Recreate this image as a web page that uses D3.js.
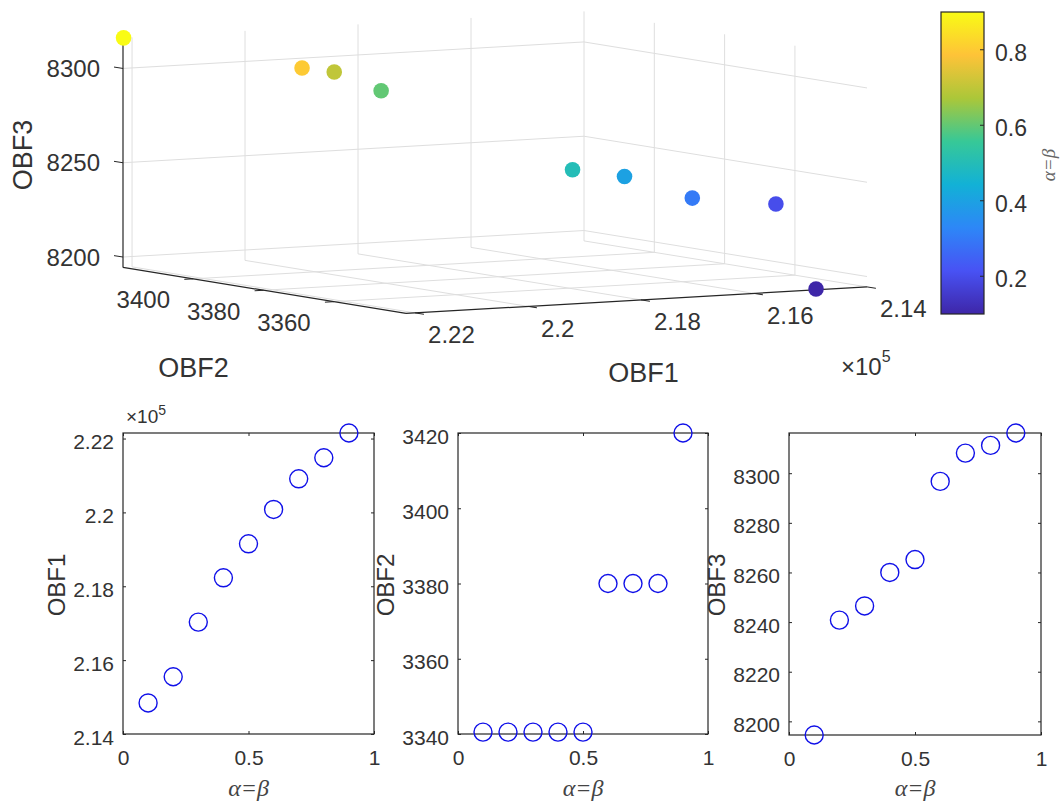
<!DOCTYPE html>
<html>
<head>
<meta charset="utf-8">
<script src="https://d3js.org/d3.v7.min.js"></script>
<style>
  body { margin: 0; background: #fff; }
  svg text { font-family: "Liberation Sans", Arial, sans-serif; fill: #333; }
  svg .greek { font-family: "Liberation Serif", "Times New Roman", serif; font-style: italic; fill: #444; }
</style>
</head>
<body>
<svg id="chart" width="1061" height="801"></svg>
<script>
// alpha = beta settings
const alphas = [0.1, 0.2, 0.3, 0.4, 0.5, 0.6, 0.7, 0.8, 0.9];
// objective values
const obf1 = [214840, 215550, 217030, 218230, 219150, 220080, 220910, 221480, 222150];
const obf2 = [3340.5, 3340.5, 3340.5, 3340.5, 3340.5, 3380, 3380, 3380, 3420];
const obf3 = [8194.5, 8240.8, 8246.5, 8260, 8265.2, 8296.7, 8308.1, 8311.2, 8316.2];

// tick values
const xTicks3d = [2.14, 2.16, 2.18, 2.2, 2.22];
const yTicks3d = [3360, 3380, 3400];
const zTicks3d = [8200, 8250, 8300];
const cbTicks = [0.2, 0.4, 0.6, 0.8];
const alphaTicks = [0, 0.5, 1];
const obf1Ticks = [2.14, 2.16, 2.18, 2.2, 2.22];
const obf2Ticks = [3340, 3360, 3380, 3400, 3420];
const obf3Ticks = [8200, 8220, 8240, 8260, 8280, 8300];

// parula colormap
const parula = ["#3e26a8", "#4852f4", "#2d87f7", "#12b1d6", "#37c897", "#abc739", "#fec338", "#f9fb15"];

const svg = d3.select("#chart");
const ink = "#262626";

const color = d3.scaleLinear()
  .domain(parula.map((c, i) => 0.1 + 0.8 * i / (parula.length - 1)))
  .range(parula);

// ---------- 3D scatter (orthographic projection) ----------
const u = d3.scaleLinear().domain([2.2216, 2.14]).range([0, 1]);
const v = d3.scaleLinear().domain([3420, 3339.5]).range([0, 1]);
const w = d3.scaleLinear().domain(d3.extent(obf3)).range([0, 1]);
const origin = [123, 267.4], ex = [461, -26.5], ey = [283, 46], ez = -229.5;

function proj(a, b, c) {
  return [origin[0] + a * ex[0] + b * ey[0], origin[1] + a * ex[1] + b * ey[1] + c * ez];
}
const line = d3.line();
const g3 = svg.append("g");

// grid on the back planes
const grid = [];
xTicks3d.forEach(t => {
  grid.push([[u(t), 0, 0], [u(t), 0, 1]]);
  grid.push([[u(t), 0, 0], [u(t), 1, 0]]);
});
yTicks3d.forEach(t => {
  grid.push([[1, v(t), 0], [1, v(t), 1]]);
  grid.push([[0, v(t), 0], [1, v(t), 0]]);
});
zTicks3d.forEach(t => {
  grid.push([[0, 0, w(t)], [1, 0, w(t)]]);
  grid.push([[1, 0, w(t)], [1, 1, w(t)]]);
});
g3.selectAll(".grid").data(grid).join("path")
  .attr("d", d => line(d.map(p => proj(...p))))
  .attr("stroke", "#dedede").attr("stroke-width", 1).attr("fill", "none");

// axis lines
const axes3 = [[[0, 0, 0], [0, 0, 1]], [[0, 0, 0], [0, 1, 0]], [[0, 1, 0], [1, 1, 0]]];
g3.selectAll(".ax").data(axes3).join("path")
  .attr("d", d => line(d.map(p => proj(...p))))
  .attr("stroke", ink).attr("stroke-width", 1.2).attr("fill", "none");

// z ticks
zTicks3d.forEach(t => {
  const p = proj(0, 0, w(t));
  g3.append("path").attr("d", line([p, [p[0] - 9, p[1] - 1.4]])).attr("stroke", ink);
  g3.append("text").attr("x", 100).attr("y", p[1] + 8.5)
    .attr("text-anchor", "end").style("font-size", "24px").text(t);
});
// y ticks (OBF2)
yTicks3d.forEach(t => {
  const p = proj(0, v(t), 0);
  g3.append("path").attr("d", line([p, [p[0] - 9, p[1] + 0.5]])).attr("stroke", ink);
  g3.append("text").attr("x", p[0] - 50).attr("y", p[1] + 29.5)
    .attr("text-anchor", "middle").style("font-size", "24px").text(t);
});
// x ticks (OBF1)
xTicks3d.forEach(t => {
  const p = proj(u(t), 1, 0);
  g3.append("path").attr("d", line([p, [p[0] + 8.9, p[1] + 1.4]])).attr("stroke", ink);
  g3.append("text").attr("x", p[0] + 13).attr("y", p[1] + 30.5)
    .attr("text-anchor", "start").style("font-size", "24px").text(t);
});

// axis titles
g3.append("text").attr("transform", "translate(32,155) rotate(-90)")
  .attr("text-anchor", "middle").style("font-size", "27px").text("OBF3");
g3.append("text").attr("x", 193.5).attr("y", 377)
  .attr("text-anchor", "middle").style("font-size", "27px").text("OBF2");
g3.append("text").attr("x", 643.5).attr("y", 382)
  .attr("text-anchor", "middle").style("font-size", "27px").text("OBF1");
const e3 = g3.append("text").attr("x", 841).attr("y", 375).style("font-size", "24px");
e3.append("tspan").text("×10");
e3.append("tspan").attr("dy", -13).style("font-size", "16px").text("5");

// points
g3.selectAll(".dot").data(alphas).join("circle")
  .attr("cx", (d, i) => proj(u(obf1[i] / 1e5), v(obf2[i]), w(obf3[i]))[0])
  .attr("cy", (d, i) => proj(u(obf1[i] / 1e5), v(obf2[i]), w(obf3[i]))[1])
  .attr("r", 7.8)
  .attr("fill", d => color(d));

// ---------- colorbar ----------
const cb = d3.scaleLinear().domain([0.1, 0.9]).range([314, 12]);
const defs = svg.append("defs");
const grad = defs.append("linearGradient").attr("id", "parula")
  .attr("x1", 0).attr("y1", 1).attr("x2", 0).attr("y2", 0);
grad.selectAll("stop").data(parula).join("stop")
  .attr("offset", (d, i) => i / (parula.length - 1))
  .attr("stop-color", d => d);
svg.append("rect").attr("x", 941).attr("y", cb(0.9)).attr("width", 43)
  .attr("height", cb(0.1) - cb(0.9)).attr("fill", "url(#parula)")
  .attr("stroke", ink).attr("stroke-width", 1.2);
cbTicks.forEach(t => {
  svg.append("path").attr("d", line([[984, cb(t)], [980, cb(t)]])).attr("stroke", ink);
  svg.append("text").attr("x", 995).attr("y", cb(t) + 11)
    .style("font-size", "23px").text(t);
});
svg.append("text").attr("class", "greek")
  .attr("transform", "translate(1055,165) rotate(-90)")
  .attr("text-anchor", "middle").style("font-size", "19px").style("fill", "#666").text("α=β");

// ---------- 2D panels ----------
const panels = [
  { vals: obf1.map(d => d / 1e5), dom: [2.14, 2.2215], ticks: obf1Ticks, label: "OBF1", box: [123, 374, 433, 734], labelX: 56 },
  { vals: obf2, dom: [3340, 3420], ticks: obf2Ticks, label: "OBF2", box: [458, 708, 433, 734], labelX: 385 },
  { vals: obf3, dom: d3.extent(obf3), ticks: obf3Ticks, label: "OBF3", box: [789, 1041, 433, 735], labelX: 716 }
];

panels.forEach((p, k) => {
  const [x0, x1, y0, y1] = p.box;
  const x = d3.scaleLinear().domain([0, 1]).range([x0, x1]);
  const y = d3.scaleLinear().domain(p.dom).range([y1, y0]);
  const g = svg.append("g");

  const styleAxis = sel => {
    sel.attr("font-family", null).attr("font-size", null);
    sel.select(".domain").remove();
    sel.selectAll(".tick line").attr("stroke", ink);
    sel.selectAll(".tick text").style("font-size", "21px").attr("fill", "#333");
  };

  g.append("g").attr("transform", `translate(${x0},0)`)
    .call(d3.axisLeft(y).tickValues(p.ticks).tickFormat(String).tickSize(-3).tickPadding(9))
    .call(styleAxis)
    .selectAll(".tick text").attr("dy", "0.48em");
  g.append("g").attr("transform", `translate(${x1},0)`)
    .call(d3.axisRight(y).tickValues(p.ticks).tickFormat("").tickSize(-3))
    .call(styleAxis);
  g.append("g").attr("transform", `translate(0,${y1})`)
    .call(d3.axisBottom(x).tickValues(alphaTicks).tickFormat(String).tickSize(-3).tickPadding(16))
    .call(styleAxis);
  g.append("g").attr("transform", `translate(0,${y0})`)
    .call(d3.axisTop(x).tickValues(alphaTicks).tickFormat("").tickSize(-3))
    .call(styleAxis);

  g.append("rect").attr("x", x0).attr("y", y0).attr("width", x1 - x0).attr("height", y1 - y0)
    .attr("fill", "none").attr("stroke", ink).attr("stroke-width", 1.2);

  g.selectAll(".pt").data(alphas).join("circle")
    .attr("cx", d => x(d))
    .attr("cy", (d, i) => y(p.vals[i]))
    .attr("r", 9)
    .attr("fill", "none")
    .attr("stroke", "#1010e8")
    .attr("stroke-width", 1.4);

  g.append("text").attr("transform", `translate(${p.labelX + 9},${585}) rotate(-90)`)
    .attr("text-anchor", "middle").style("font-size", "24px").text(p.label);
  g.append("text").attr("class", "greek").attr("x", (x0 + x1) / 2).attr("y", 796)
    .attr("text-anchor", "middle").style("font-size", "24px").text("α=β");

  if (k === 0) {
    const e = g.append("text").attr("x", 126).attr("y", 423).style("font-size", "19px").attr("fill", "#555");
    e.append("tspan").text("×10");
    e.append("tspan").attr("dy", -8).style("font-size", "14px").text("5");
  }
});
</script>
</body>
</html>
